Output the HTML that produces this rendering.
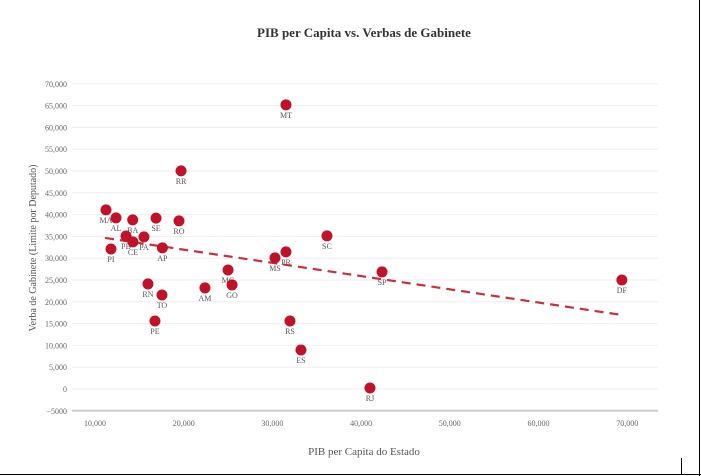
<!DOCTYPE html>
<html><head><meta charset="utf-8"><style>
body{margin:0;background:#fff;width:701px;height:476px;overflow:hidden;font-family:"Liberation Serif",serif}
svg{display:block}
</style></head><body>
<svg id="c" width="701" height="476">
<text x="364" y="37" text-anchor="middle" font-size="13" font-weight="bold" fill="#333">PIB per Capita vs. Verbas de Gabinete</text>
<text transform="translate(36,248) rotate(-90)" text-anchor="middle" font-size="10" fill="#555">Verba de Gabinete (Limite por Deputado)</text>
<text x="364" y="455" text-anchor="middle" font-size="11" fill="#555">PIB per Capita do Estado</text>
<line x1="0" y1="474.5" x2="701" y2="474.5" stroke="#000"/>
<line x1="699.5" y1="0" x2="699.5" y2="476" stroke="#000"/>
<line x1="681.5" y1="458" x2="681.5" y2="474" stroke="#000"/>
<g id="grid"></g><g id="marks"></g>
</svg>
<script>
const states=["MA","AL","BA","SE","RO","RR","PB","CE","PA","PI","AP","RN","TO","PE","AM","MG","GO","MS","PR","MT","SC","SP","RS","ES","RJ","DF"];
const pib=[11240,12370,14250,16880,19470,19700,13500,14280,15520,11800,17600,15970,17550,16760,22400,25000,25450,30290,31530,31530,36150,42360,31980,33220,41000,69400];
const verba=[41080,39250,38800,39200,38560,50030,35100,33740,34900,32100,32360,24100,21570,15600,23180,27300,23870,30070,31440,65180,35110,26850,15600,8950,230,25000];
const trendX=[11130,69400];
const trendY=[34650,16980];
const xTicks=[10000,20000,30000,40000,50000,60000,70000];
const yTicks=[-5000,0,5000,10000,15000,20000,25000,30000,35000,40000,45000,50000,55000,60000,65000,70000];
const NS="http://www.w3.org/2000/svg";
const X=v=>95+(v-10000)/10000*88.7;
const Y=v=>389-v/5000*21.8;
const fmt=v=>v===-5000?"−5000":v.toLocaleString("en-US");
function mk(t,a,p){const e=document.createElementNS(NS,t);for(const k in a)e.setAttribute(k,a[k]);p.appendChild(e);return e;}
const g=document.getElementById("grid"),m=document.getElementById("marks");
yTicks.forEach(v=>{
 const l=mk("line",{x1:72,x2:658,y1:Y(v),y2:Y(v),stroke:v===-5000?"#ccc":"#eee","stroke-width":v===-5000?2:1},g);
 
 
 const t=mk("text",{x:67,y:Y(v)+3,"text-anchor":"end","font-size":8,fill:"#666"},g);t.textContent=fmt(v);
 
 
});
xTicks.forEach(v=>{
 const t=mk("text",{x:X(v),y:426,"text-anchor":"middle","font-size":8,fill:"#666"},g);t.textContent=fmt(v);
 
 
});
const tl=mk("line",{x1:X(trendX[0]),y1:Y(trendY[0]),x2:X(trendX[1]),y2:Y(trendY[1]),stroke:"#c8303f","stroke-width":2.2,"stroke-dasharray":"9,6"},m);


states.forEach((s,i)=>{
 const c=mk("circle",{cx:X(pib[i]),cy:Y(verba[i]),r:5.5,fill:"#c0122a"},m);
 
 
 const t=mk("text",{x:X(pib[i]),y:Y(verba[i])+13,"text-anchor":"middle","font-size":8,fill:"#555"},m);t.textContent=s;
 
 
});
</script>
</body></html>
